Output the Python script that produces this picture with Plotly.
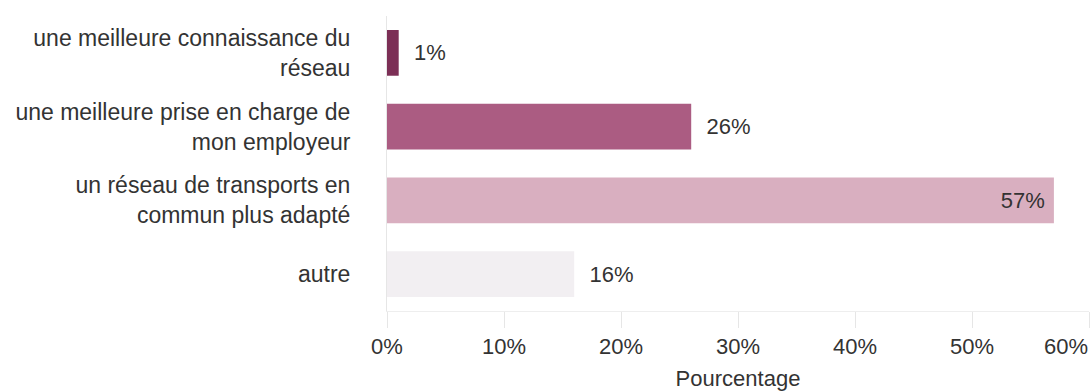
import plotly.graph_objects as go

categories = [
    "une meilleure connaissance du<br>réseau",
    "une meilleure prise en charge de<br>mon employeur",
    "un réseau de transports en<br>commun plus adapté",
    "autre",
]
values = [1, 26, 57, 16]
bar_colors = ["#7c2f56", "#ab5c82", "#d9afc0", "#f2eff2"]
text_positions = ["outside", "outside", "inside", "outside"]
x_ticks = [0, 10, 20, 30, 40, 50, 60]
x_tick_labels = [f"{v}%" for v in x_ticks]

NBSP = "\u00a0"
# outside labels sit a little away from the bar end, the inside one a little in from it
bar_texts = [
    (NBSP * 2 + f"{v}%") if pos == "outside" else (f"{v}%" + NBSP)
    for v, pos in zip(values, text_positions)
]
# the last tick label is drawn right-aligned on its tick so it stays inside the page
tick_texts = x_tick_labels[:-1] + [""]

FONT = "Liberation Sans, Arial, sans-serif"
TEXT_COLOR = "#333333"

fig = go.Figure(
    go.Bar(
        y=categories,
        x=values,
        orientation="h",
        marker=dict(color=bar_colors, line=dict(width=0)),
        text=bar_texts,
        textposition=text_positions,
        insidetextanchor="end",
        textfont=dict(family=FONT, size=22, color=TEXT_COLOR),
        cliponaxis=False,
    )
)

fig.add_annotation(
    x=x_ticks[-1],
    xref="x",
    y=0,
    yref="paper",
    text=x_tick_labels[-1],
    showarrow=False,
    xanchor="right",
    yanchor="top",
    yshift=-21,
    xshift=1,
    font=dict(family=FONT, size=22, color=TEXT_COLOR),
)

fig.update_layout(
    width=1091,
    height=392,
    margin=dict(l=387, r=2, t=16, b=81),
    plot_bgcolor="white",
    paper_bgcolor="white",
    bargap=0.38,
    showlegend=False,
    font=dict(family=FONT, size=22, color=TEXT_COLOR),
)

fig.update_xaxes(
    range=[0, 60],
    tickvals=x_ticks,
    ticktext=tick_texts,
    automargin=False,
    showgrid=False,
    zeroline=False,
    showline=True,
    linecolor="#eeeeee",
    ticks="outside",
    ticklen=16,
    tickcolor="#e6e6e6",
    tickfont=dict(size=22, color=TEXT_COLOR),
    title=dict(text="Pourcentage", font=dict(size=22, color=TEXT_COLOR), standoff=12),
)

fig.update_yaxes(
    autorange="reversed",
    automargin=False,
    showgrid=False,
    zeroline=False,
    showline=True,
    linecolor="#e6e6e6",
    ticks="",
    ticklabelstandoff=31,
    tickfont=dict(size=23, color=TEXT_COLOR),
)

fig.write_html("out.html")
